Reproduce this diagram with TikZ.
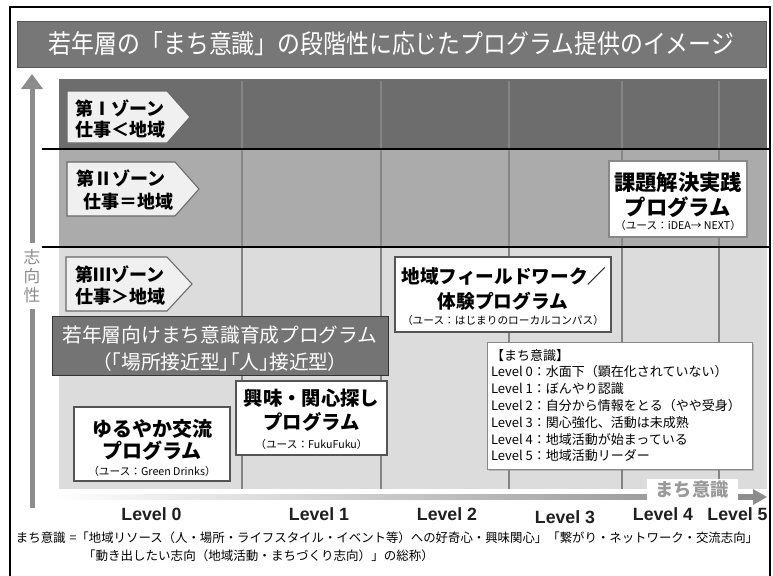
\documentclass[tikz,border=0pt]{standalone}
\usepackage{fontspec}
\usetikzlibrary{shadows}
\newfontfamily\jp{Noto Sans CJK JP}
\newfontfamily\jpp{Noto Sans CJK JP}[RawFeature=+palt]
\newfontfamily\lat{Liberation Sans}
\definecolor{zoneA}{HTML}{6D6D6D}
\definecolor{zoneB}{HTML}{ABABAB}
\definecolor{zoneC}{HTML}{DCDCDC}
\definecolor{gridc}{HTML}{858585}
\definecolor{axisc}{HTML}{8C8C8C}
\definecolor{axlab}{HTML}{9A9A9A}
\definecolor{titlec}{HTML}{777777}
\definecolor{titleline}{HTML}{555555}
\definecolor{darkfill}{HTML}{747474}
\definecolor{darkline}{HTML}{333333}
\definecolor{boxline}{HTML}{555555}
\definecolor{legline}{HTML}{888888}
\definecolor{pentfill}{HTML}{F0F0F0}
\definecolor{pentline}{HTML}{6A6A6A}
\begin{document}
\begin{tikzpicture}[x=0.75pt,y=-0.75pt,
  txt/.style={inner sep=0pt, outer sep=0pt},
  pbox/.style={draw=boxline, line width=0.9pt, fill=white, inner sep=0pt, outer sep=0pt},
  ptitle/.style={txt, font=\jp\bfseries\fontsize{#1}{#1}\selectfont},
  psmall/.style={txt, font=\jp\fontsize{8}{8}\selectfont},
  zonetxt/.style={txt, anchor=west, font=\jp\bfseries\fontsize{13.5}{13.5}\selectfont},
  lvl/.style={txt, font=\lat\bfseries\fontsize{13.3}{13.3}\selectfont, text=black!88},
  pent/.style={draw=pentline, fill=pentfill, line width=0.8pt},
  foot/.style={txt, anchor=west, font=\jp\fontsize{9.4}{9.4}\selectfont}
]
\useasboundingbox (0,0) rectangle (773,575);
\fill[white] (0,0) rectangle (773,575);
% zones
\fill[zoneA] (59,79) rectangle (767,149);
\fill[zoneB] (59,149) rectangle (767,247);
\fill[zoneC] (59,247) rectangle (767,489);
\foreach \x in {242,381,509,622,719} \draw[gridc, line width=0.8pt] (\x,81) -- (\x,489);
\draw[line width=1pt] (42,149) -- (770,149);
\draw[line width=1pt] (42,247) -- (770,247);
% frame
\draw[line width=0.8pt] (10,576) -- (10,7) -- (770,7) -- (770,576);
% title
\node[draw=titleline, fill=titlec, minimum width=561.75pt, minimum height=34.5pt, inner sep=0pt, text=white, font=\jp\fontsize{19.5}{19.5}\selectfont] (title) at (391.5,44) {\scalebox{0.88}[1]{若年層の「まち意識」の段階性に応じたプログラム提供のイメージ}};
% zone labels
\draw[pent] (67,91) -- (167,91) -- (190,117) -- (167,143) -- (67,143) -- cycle;
\node[zonetxt] (z1a) at (75,108) {第Ⅰゾーン};
\node[zonetxt] (z1b) at (75,130) {仕事＜地域};
\draw[pent] (67,162) -- (175,162) -- (199,189) -- (175,216) -- (67,216) -- cycle;
\node[zonetxt] (z2a) at (76,178) {第Ⅱゾーン};
\node[zonetxt] (z2b) at (83,202) {仕事＝地域};
\draw[pent] (66,257) -- (167,257) -- (192,284) -- (167,311) -- (66,311) -- cycle;
\node[zonetxt] (z3a) at (75,274) {第Ⅲゾーン};
\node[zonetxt] (z3b) at (75,297) {仕事＞地域};
% dark box
\node[draw=darkline, fill=darkfill, minimum width=252pt, minimum height=44.25pt, inner sep=0pt] (dark) at (220,345.5) {};
\node[txt, text=white, font=\jp\fontsize{14.8}{14.8}\selectfont] (darka) at (220,335) {若年層向けまち意識育成プログラム};
\node[txt, text=white, font=\jpp\fontsize{14.8}{14.8}\selectfont] (darkb) at (220,362) {（「場所接近型」「人」接近型）};
% program boxes
\node[pbox, minimum width=117pt, minimum height=55.5pt] (boxA) at (152,444) {};
\node[ptitle=15] (boxAa) at (152,429) {ゆるやか交流};
\node[ptitle=15] (boxAb) at (152,451) {プログラム};
\node[psmall] (boxAc) at (152,471) {（ユース：Green Drinks）};
\node[pbox, minimum width=113.25pt, minimum height=55.5pt] (boxB) at (311.5,418) {};
\node[ptitle=14.5] (boxBa) at (311.5,398) {興味・関心探し};
\node[ptitle=14.5] (boxBb) at (311.5,422) {プログラム};
\node[psmall] (boxBc) at (311.5,444) {（ユース：FukuFuku）};
\node[pbox, minimum width=162pt, minimum height=56.25pt] (boxC) at (503,294.5) {};
\node[ptitle=14] (boxCa) at (504,276) {地域フィールドワーク／};
\node[ptitle=14] (boxCb) at (503,301) {体験プログラム};
\node[psmall] (boxCc) at (503,320) {（ユース：はじまりのローカルコンパス）};
\node[pbox, draw=legline, line width=1.1pt, minimum width=103.5pt, minimum height=57pt] (boxD) at (678,199) {};
\node[ptitle=16] (boxDa) at (678,182) {課題解決実践};
\node[ptitle=16] (boxDb) at (678,207) {プログラム};
\node[psmall] (boxDc) at (678,225) {（ユース：iDEA→ NEXT）};
% legend
\node[pbox, draw=legline, line width=0.6pt, drop shadow={shadow xshift=1.5pt, shadow yshift=-1.5pt, opacity=0.4}, minimum width=198.75pt, minimum height=95.25pt] (legend) at (619.5,405.5) {};
\node[txt, anchor=west, align=left, font=\jp\fontsize{9.75}{12.6}\selectfont] (legtxt) at (491,405.5) {【まち意識】\\Level 0：水面下（顕在化されていない）\\Level 1：ぼんやり認識\\Level 2：自分から情報をとる（やや受身）\\Level 3：関心強化、活動は未成熟\\Level 4：地域活動が始まっている\\Level 5：地域活動リーダー};
% horizontal axis
\shade[left color=white, right color=axisc] (55,494.5) rectangle (753,499.5);
\fill[axisc] (753,489) -- (767,497) -- (753,505) -- cycle;
\node[fill=white, text=axlab, font=\jp\bfseries\fontsize{13.7}{13.7}\selectfont, minimum width=68.25pt, minimum height=15.75pt, inner sep=0pt] (hlab) at (692,489.5) {まち意識};
% vertical axis
\fill[axisc] (29.5,508) rectangle (34.5,89);
\fill[axisc] (21,89) -- (32,74) -- (43,89) -- cycle;
\node[fill=white, text=axisc, align=center, font=\jp\fontsize{12.5}{14.25}\selectfont, minimum height=49.5pt, inner sep=0pt] (vlab) at (32,276) {志\\向\\性};
% level labels
\node[lvl] (l0) at (151.5,514) {Level 0};
\node[lvl] (l1) at (319,514) {Level 1};
\node[lvl] (l2) at (447,514) {Level 2};
\node[lvl] (l3) at (565,517) {Level 3};
\node[lvl] (l4) at (663,514) {Level 4};
\node[lvl] (l5) at (737.5,514) {Level 5};
% footnote
\node[foot] (fn1) at (16,538) {\scalebox{0.99}[1]{まち意識\hspace{3pt}=「地域リソース（人・場所・ライフスタイル・イベント等）への好奇心・興味関心」「繋がり・ネットワーク・交流志向」}};
\node[foot] (fn2) at (83,556) {「動き出したい志向（地域活動・まちづくり志向）」の総称）};
\end{tikzpicture}
\end{document}
